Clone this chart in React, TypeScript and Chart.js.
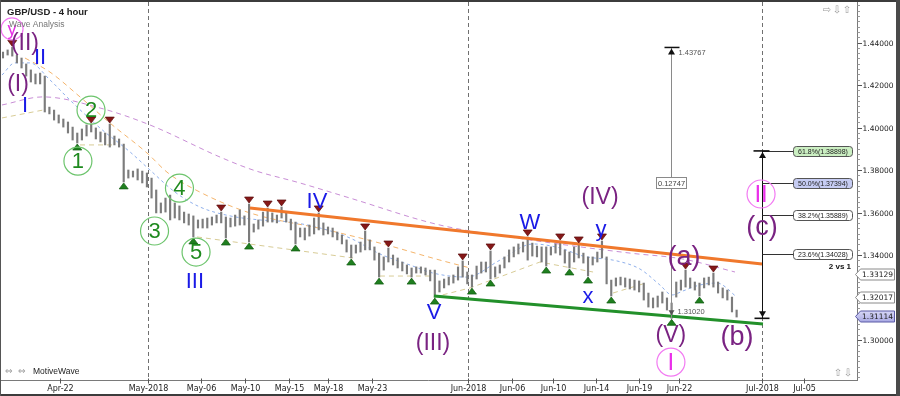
import React, { useEffect, useRef } from "react";
import { Chart, registerables } from "chart.js";

Chart.register(...registerables);

type Pt = [number, number];

// ---------- DATA ----------
// Bars: 8-hour high/low ranges, x in trading days from 1 May 2018
const barStartDay = -10.41;
const barStepDay = 1 / 3;

const barHigh: number[] = [
  1.4355, 1.4365, 1.4377, 1.4341, 1.4327, 1.4299, 1.4271, 1.4252, 1.4256, 1.4242,
  1.4096, 1.4082, 1.4059, 1.4040, 1.4026, 1.4002, 1.3974, 1.3993, 1.4012, 1.4016,
  1.3998, 1.3979, 1.3974, 1.4016, 1.3960, 1.3946, 1.3922, 1.3800, 1.3795, 1.3805,
  1.3795, 1.3786, 1.3762, 1.3706, 1.3645, 1.3668, 1.3682, 1.3645, 1.3631, 1.3602,
  1.3593, 1.3584, 1.3565, 1.3569, 1.3574, 1.3579, 1.3588, 1.3602, 1.3579, 1.3574,
  1.3588, 1.3612, 1.3584, 1.3640, 1.3546, 1.3565, 1.3602, 1.3621, 1.3598, 1.3588,
  1.3626, 1.3602, 1.3569, 1.3555, 1.3527, 1.3527, 1.3541, 1.3574, 1.3598, 1.3551,
  1.3532, 1.3527, 1.3508, 1.3494, 1.3471, 1.3447, 1.3447, 1.3461, 1.3513, 1.3471,
  1.3438, 1.3409, 1.3391, 1.3433, 1.3400, 1.3386, 1.3367, 1.3353, 1.3339, 1.3344,
  1.3344, 1.3339, 1.3329, 1.3329, 1.3278, 1.3287, 1.3296, 1.3306, 1.3344, 1.3372,
  1.3320, 1.3306, 1.3348, 1.3367, 1.3367, 1.3419, 1.3344, 1.3353, 1.3391, 1.3424,
  1.3438, 1.3452, 1.3461, 1.3485, 1.3456, 1.3442, 1.3438, 1.3438, 1.3438, 1.3452,
  1.3466, 1.3424, 1.3414, 1.3438, 1.3452, 1.3409, 1.3391, 1.3391, 1.3414, 1.3466,
  1.3391, 1.3282, 1.3292, 1.3296, 1.3292, 1.3287, 1.3282, 1.3278, 1.3268, 1.3221,
  1.3198, 1.3207, 1.3226, 1.3198, 1.3174, 1.3273, 1.3282, 1.3329, 1.3292, 1.3273,
  1.3268, 1.3292, 1.3296, 1.3315, 1.3273, 1.3245, 1.3235, 1.3202, 1.3141,
];

const barLow: number[] = [
  1.4327, 1.4341, 1.4336, 1.4304, 1.4280, 1.4242, 1.4214, 1.4205, 1.4205, 1.4073,
  1.4064, 1.4035, 1.4021, 1.4002, 1.3974, 1.3941, 1.3927, 1.3941, 1.3960, 1.3979,
  1.3946, 1.3932, 1.3918, 1.3908, 1.3918, 1.3908, 1.3744, 1.3762, 1.3767, 1.3753,
  1.3739, 1.3720, 1.3668, 1.3598, 1.3598, 1.3602, 1.3565, 1.3574, 1.3565, 1.3551,
  1.3541, 1.3485, 1.3527, 1.3527, 1.3527, 1.3541, 1.3551, 1.3551, 1.3480, 1.3532,
  1.3536, 1.3541, 1.3541, 1.3461, 1.3508, 1.3522, 1.3536, 1.3555, 1.3555, 1.3551,
  1.3574, 1.3555, 1.3518, 1.3452, 1.3485, 1.3471, 1.3489, 1.3499, 1.3518, 1.3494,
  1.3499, 1.3485, 1.3471, 1.3452, 1.3414, 1.3386, 1.3409, 1.3414, 1.3424, 1.3424,
  1.3376, 1.3296, 1.3329, 1.3367, 1.3353, 1.3339, 1.3325, 1.3311, 1.3296, 1.3315,
  1.3315, 1.3306, 1.3278, 1.3202, 1.3226, 1.3245, 1.3259, 1.3268, 1.3282, 1.3296,
  1.3264, 1.3249, 1.3287, 1.3315, 1.3320, 1.3287, 1.3296, 1.3315, 1.3339, 1.3367,
  1.3391, 1.3405, 1.3414, 1.3376, 1.3395, 1.3391, 1.3367, 1.3348, 1.3400, 1.3409,
  1.3400, 1.3362, 1.3339, 1.3367, 1.3386, 1.3362, 1.3301, 1.3353, 1.3367, 1.3386,
  1.3264, 1.3207, 1.3254, 1.3259, 1.3249, 1.3240, 1.3235, 1.3226, 1.3188, 1.3155,
  1.3151, 1.3155, 1.3174, 1.3141, 1.3102, 1.3202, 1.3235, 1.3249, 1.3245, 1.3235,
  1.3207, 1.3245, 1.3259, 1.3249, 1.3221, 1.3198, 1.3188, 1.3132, 1.3108,
];

const xTickDays = [-6.3, 0, 3.8, 6.96, 10.12, 12.92, 16.08, 23, 26.13, 29.07, 32.16, 35.25, 38.12, 44.05, 47.1];
const xTickLabels = ["Apr-22", "May-2018", "May-06", "May-10", "May-15", "May-18", "May-23", "Jun-2018", "Jun-06", "Jun-10", "Jun-14", "Jun-19", "Jun-22", "Jul-2018", "Jul-05"];
const monthStartDays = [0, 23, 44.05];
const yTickValues = [1.30, 1.32, 1.34, 1.36, 1.38, 1.40, 1.42, 1.44];

const maFast: Pt[] = [
  [-10.48, 1.4247], [-9.55, 1.4304], [-8.47, 1.4304], [-7.04, 1.4224], [-5.6, 1.4129],
  [-3.45, 1.3998], [-1.29, 1.3885], [0.14, 1.38], [1.94, 1.3696], [3.73, 1.3626],
  [5.89, 1.3584], [8.04, 1.3565], [10.19, 1.3555], [12.35, 1.3527], [14.5, 1.348],
  [16.65, 1.3405], [18.81, 1.3353], [20.46, 1.3315], [22.9, 1.3296], [25.27, 1.3376],
  [27.64, 1.3452], [29.58, 1.3433], [31.23, 1.3395], [33.67, 1.3372], [35.32, 1.3334],
  [36.75, 1.3259], [37.62, 1.3212], [38.41, 1.3231], [39.63, 1.3259], [40.85, 1.3268],
  [42.28, 1.3202],
];
const maMid: Pt[] = [
  [-8.83, 1.4327], [-7.04, 1.4261], [-4.88, 1.4144], [-2.73, 1.4021], [-0.07, 1.388],
  [1.44, 1.3786], [3.73, 1.3696], [7.32, 1.3598], [12.85, 1.3518], [16.65, 1.3456],
  [20.96, 1.3376], [23.12, 1.3339],
];
const maSlow: Pt[] = [
  [-10.48, 1.4106], [-7.54, 1.4144], [-3.45, 1.4092], [0.14, 1.4012], [5.17, 1.3861],
  [7.54, 1.38], [10.91, 1.3739], [14.5, 1.3668], [20.96, 1.3541], [27.42, 1.3471],
  [34.6, 1.3409], [38.41, 1.3381], [42.14, 1.332],
];
const zigzagSegments: Pt[][] = [
  [[-10.48, 1.4045], [-7.54, 1.4082]],
  [[-4.88, 1.3918], [-2.58, 1.3918]],
  [[3.52, 1.3485], [14.72, 1.3386]],
  [[16.65, 1.3301], [20.46, 1.3301]],
  [[20.53, 1.3202], [23.12, 1.3245], [28.14, 1.3367], [31.95, 1.332]],
  [[33.38, 1.3221], [35.53, 1.3264]],
];

const upperTrend: Pt[] = [[7.32, 1.3621], [44.08, 1.3358]];
const lowerTrend: Pt[] = [[20.53, 1.3207], [44.15, 1.3075]];

const swingHighBars = [2, 19, 23, 47, 53, 57, 60, 68, 78, 83, 99, 105, 113, 120, 124, 129, 147, 153];
const swingLowBars = [16, 26, 41, 48, 53, 63, 75, 81, 88, 93, 101, 105, 117, 122, 126, 131, 144, 150];

const waveText = ["y", "(II)", "II", "(I)", "I", "1", "2", "3", "4", "5", "III", "IV", "V", "(III)", "W", "y", "x", "(IV)", "(a)", "(V)", "I", "(b)", "(c)", "II"];
const waveDay = [-9.76, -8.83, -7.75, -9.33, -8.83, -5.03, -4.09, 0.47, 2.26, 3.45, 3.37, 12.13, 20.53, 20.46, 27.42, 32.52, 31.59, 32.45, 38.48, 37.54, 37.54, 42.28, 44.08, 44.01];
const wavePrice = [1.4464, 1.4398, 1.4332, 1.4205, 1.4106, 1.3842, 1.4082, 1.3513, 1.3715, 1.3414, 1.3278, 1.3654, 1.3132, 1.2986, 1.3555, 1.3522, 1.3207, 1.3673, 1.3395, 1.3024, 1.2896, 1.3014, 1.3536, 1.3687];
const waveDegree = ["p", "I", "m", "I", "m", "M", "M", "M", "M", "M", "m", "m", "m", "I", "m", "m", "m", "I", "i", "I", "P", "i", "i", "P"];

const fibDay = 44.05;
const fibRatios = ["23.6%", "38.2%", "50.0%", "61.8%"];
const fibPrices = [1.34028, 1.35889, 1.37394, 1.38898];
const fibLow = 1.3102;

const measureDay = 37.55;
const measureHigh = 1.43767;
const measureLow = 1.3102;
const measureDiff = "0.12747";

const priceTags = [1.33129, 1.32017, 1.31114];
const ratioNoteText = "2 vs 1";
const ratioNotePrice = 1.33435;

// ---------- STYLE ----------
const X_MIN = -10.48, X_MAX = 50.97, Y_MIN = 1.28118, Y_MAX = 1.45906;
const SANS = '"Liberation Sans", Arial, sans-serif';
const DJ = '"DejaVu Sans", sans-serif';
const degreeStyle: Record<string, any> = {
  p: { color: "#e62ee6", ring: "#f27af2", size: 18, r: 11 },
  P: { color: "#ea2fea", ring: "#f27af2", size: 24, r: 14 },
  I: { color: "#7a2382", size: 23 },
  i: { color: "#7a2382", size: 27 },
  m: { color: "#1a1ae6", size: 22 },
  M: { color: "#1f8a1f", ring: "#6cc46c", size: 22, r: 14 },
};
const fibFill: Record<string, string> = { "61.8%": "#cbefc2", "50.0%": "#c6ccf3" };

function rr(ctx: CanvasRenderingContext2D, x: number, y: number, w: number, h: number, r: number) {
  ctx.beginPath();
  ctx.moveTo(x + r, y);
  ctx.lineTo(x + w - r, y);
  ctx.quadraticCurveTo(x + w, y, x + w, y + r);
  ctx.lineTo(x + w, y + h - r);
  ctx.quadraticCurveTo(x + w, y + h, x + w - r, y + h);
  ctx.lineTo(x + r, y + h);
  ctx.quadraticCurveTo(x, y + h, x, y + h - r);
  ctx.lineTo(x, y + r);
  ctx.quadraticCurveTo(x, y, x + r, y);
  ctx.closePath();
}

const decor = {
  id: "decor",
  beforeDraw(c: any) {
    const ctx = c.ctx;
    ctx.save();
    ctx.fillStyle = "#ffffff";
    ctx.fillRect(0, 0, c.width, c.height);
    ctx.restore();
  },
  beforeDatasetsDraw(c: any) {
    const { ctx, chartArea: a, scales } = c;
    ctx.save();
    ctx.strokeStyle = "#707070";
    ctx.lineWidth = 1;
    ctx.setLineDash([4, 3]);
    monthStartDays.forEach((d) => {
      const x = Math.round(scales.x.getPixelForValue(d)) + 0.5;
      ctx.beginPath();
      ctx.moveTo(x, a.top);
      ctx.lineTo(x, a.bottom);
      ctx.stroke();
    });
    ctx.restore();
  },
  afterDatasetsDraw(c: any) {
    const { ctx, scales } = c;
    const X = (d: number) => scales.x.getPixelForValue(d);
    const Y = (p: number) => scales.y.getPixelForValue(p);
    ctx.save();

    // swing markers
    swingHighBars.forEach((i) => {
      const x = X(barStartDay + i * barStepDay);
      const y = Y(barHigh[i]) - 1;
      ctx.beginPath();
      ctx.moveTo(x, y);
      ctx.lineTo(x - 4.5, y - 6);
      ctx.lineTo(x + 4.5, y - 6);
      ctx.closePath();
      ctx.fillStyle = "#861818";
      ctx.fill();
      ctx.strokeStyle = "#5a0c0c";
      ctx.lineWidth = 0.7;
      ctx.stroke();
    });
    swingLowBars.forEach((i) => {
      const x = X(barStartDay + i * barStepDay);
      const y = Y(barLow[i]) + 1;
      ctx.beginPath();
      ctx.moveTo(x, y);
      ctx.lineTo(x - 4.5, y + 6);
      ctx.lineTo(x + 4.5, y + 6);
      ctx.closePath();
      ctx.fillStyle = "#1f7f1f";
      ctx.fill();
      ctx.strokeStyle = "#0e5a0e";
      ctx.lineWidth = 0.7;
      ctx.stroke();
    });

    // measurement tool
    const mx = Math.round(X(measureDay)) + 0.5;
    const mh = Y(measureHigh), ml = Y(measureLow);
    ctx.strokeStyle = "#8a8a8a";
    ctx.lineWidth = 1;
    ctx.beginPath(); ctx.moveTo(mx, mh); ctx.lineTo(mx, ml); ctx.stroke();
    ctx.strokeStyle = "#111"; ctx.lineWidth = 1.5;
    ctx.beginPath(); ctx.moveTo(mx - 7, mh); ctx.lineTo(mx + 8, mh); ctx.stroke();
    ctx.fillStyle = "#111";
    ctx.beginPath(); ctx.moveTo(mx, mh + 1); ctx.lineTo(mx - 3.5, mh + 7); ctx.lineTo(mx + 3.5, mh + 7); ctx.closePath(); ctx.fill();
    ctx.fillStyle = "#555";
    ctx.beginPath(); ctx.moveTo(mx, ml - 3); ctx.lineTo(mx - 3, ml - 8); ctx.lineTo(mx + 3, ml - 8); ctx.closePath(); ctx.fill();
    ctx.font = `7.5px ${SANS}`;
    ctx.textAlign = "left"; ctx.textBaseline = "middle";
    ctx.fillStyle = "#555";
    ctx.fillText(measureHigh.toFixed(5), mx + 7, mh + 5);
    ctx.fillText(measureLow.toFixed(5), mx + 6, ml - 6);
    const mm = Y((measureHigh + measureLow) / 2);
    ctx.fillStyle = "#fff"; ctx.strokeStyle = "#8a8a8a"; ctx.lineWidth = 1;
    ctx.fillRect(mx - 15, Math.round(mm) - 5.5, 30, 11);
    ctx.strokeRect(mx - 15, Math.round(mm) - 5.5, 30, 11);
    ctx.fillStyle = "#444"; ctx.textAlign = "center";
    ctx.fillText(measureDiff, mx, Math.round(mm) + 0.5);

    // fibonacci tool
    const fx = Math.round(X(fibDay)) + 0.5;
    const ft = Y(fibPrices[3]), fb = Y(fibLow);
    ctx.strokeStyle = "#111"; ctx.lineWidth = 1;
    ctx.beginPath(); ctx.moveTo(fx, ft); ctx.lineTo(fx, fb); ctx.stroke();
    fibPrices.forEach((p, k) => {
      const y = Math.round(Y(p)) + 0.5;
      ctx.strokeStyle = "#333"; ctx.lineWidth = 1;
      ctx.beginPath(); ctx.moveTo(fx, y); ctx.lineTo(fx + 31, y); ctx.stroke();
      rr(ctx, fx + 31, y - 5, 59, 10, 3);
      ctx.fillStyle = fibFill[fibRatios[k]] || "#ffffff";
      ctx.fill();
      ctx.strokeStyle = "#555"; ctx.stroke();
      ctx.fillStyle = "#222"; ctx.font = `7px ${SANS}`;
      ctx.textAlign = "center"; ctx.textBaseline = "middle";
      ctx.fillText(`${fibRatios[k]}(${p.toFixed(5)})`, fx + 60.5, y + 0.5);
    });
    ctx.strokeStyle = "#111"; ctx.lineWidth = 1.6;
    ctx.beginPath(); ctx.moveTo(fx - 9, ft); ctx.lineTo(fx + 7, ft); ctx.stroke();
    ctx.beginPath(); ctx.moveTo(fx - 8, fb); ctx.lineTo(fx + 7, fb); ctx.stroke();
    ctx.fillStyle = "#111";
    ctx.beginPath(); ctx.moveTo(fx, ft + 1); ctx.lineTo(fx - 3.5, ft + 7); ctx.lineTo(fx + 3.5, ft + 7); ctx.closePath(); ctx.fill();
    ctx.beginPath(); ctx.moveTo(fx, fb - 1); ctx.lineTo(fx - 3.5, fb - 7); ctx.lineTo(fx + 3.5, fb - 7); ctx.closePath(); ctx.fill();

    // ratio note
    ctx.font = `bold 8px ${SANS}`;
    ctx.fillStyle = "#111"; ctx.textAlign = "right"; ctx.textBaseline = "middle";
    ctx.fillText(ratioNoteText, c.chartArea.right - 7, Y(ratioNotePrice));

    // wave labels
    waveText.forEach((t, k) => {
      const st = degreeStyle[waveDegree[k]];
      const x = X(waveDay[k]), y = Y(wavePrice[k]);
      if (st.ring) {
        ctx.beginPath();
        ctx.arc(x, y, st.r, 0, Math.PI * 2);
        ctx.strokeStyle = st.ring; ctx.lineWidth = 1.2; ctx.stroke();
      }
      ctx.fillStyle = st.color;
      ctx.font = `${st.size}px ${SANS}`;
      ctx.textAlign = "center"; ctx.textBaseline = "middle";
      ctx.fillText(t, x, y + 1);
    });

    ctx.restore();
  },
  afterDraw(c: any) {
    const { ctx, chartArea: a, scales } = c;
    const X = (d: number) => scales.x.getPixelForValue(d);
    const Y = (p: number) => scales.y.getPixelForValue(p);
    ctx.save();

    // titles
    ctx.textAlign = "left"; ctx.textBaseline = "alphabetic";
    ctx.font = `bold 9.5px ${SANS}`; ctx.fillStyle = "#222";
    ctx.fillText("GBP/USD - 4 hour", 7, 15);
    ctx.font = `8.5px ${SANS}`; ctx.fillStyle = "#777";
    ctx.fillText("Wave Analysis", 9, 27);
    ctx.font = `8.5px ${SANS}`; ctx.fillStyle = "#222";
    ctx.fillText("MotiveWave", 33, 374);
    ctx.font = `9px ${DJ}`; ctx.fillStyle = "#9a9a9a";
    ctx.fillText("\u21D4", 5, 374);
    ctx.fillText("\u21D4", 18, 374);
    ctx.textAlign = "center";
    ctx.font = `10px ${DJ}`;
    ["\u21E8", "\u21E9", "\u21E7"].forEach((g, k) => ctx.fillText(g, 827 + k * 10, 13));
    ["\u21E7", "\u21E9"].forEach((g, k) => ctx.fillText(g, 838 + k * 10, 376));

    // right axis
    const ax = Math.round(a.right) - 0.5;
    ctx.strokeStyle = "#7a7a7a"; ctx.lineWidth = 1;
    ctx.beginPath(); ctx.moveTo(ax, a.top); ctx.lineTo(ax, a.bottom + 1); ctx.stroke();
    ctx.strokeStyle = "#9a9a9a";
    for (let v = Math.ceil(Y_MIN / 0.0025) * 0.0025; v <= Y_MAX; v += 0.0025) {
      const y = Math.round(Y(v)) + 0.5;
      ctx.beginPath(); ctx.moveTo(ax, y); ctx.lineTo(ax + 2.5, y); ctx.stroke();
    }
    ctx.font = `7.5px ${DJ}`; ctx.fillStyle = "#222";
    ctx.textAlign = "left"; ctx.textBaseline = "middle";
    ctx.strokeStyle = "#555";
    yTickValues.forEach((v) => {
      const y = Math.round(Y(v)) + 0.5;
      ctx.beginPath(); ctx.moveTo(ax, y); ctx.lineTo(ax + 4.5, y); ctx.stroke();
      ctx.fillText(v.toFixed(5), ax + 5, y + 0.5);
    });

    // bottom axis
    const by = Math.round(a.bottom) + 0.5;
    ctx.strokeStyle = "#7a7a7a";
    ctx.beginPath(); ctx.moveTo(0, by); ctx.lineTo(ax, by); ctx.stroke();
    ctx.font = `8px ${DJ}`;
    ctx.textAlign = "center"; ctx.textBaseline = "middle";
    ctx.fillStyle = "#222"; ctx.strokeStyle = "#555";
    xTickDays.forEach((d, k) => {
      const x = Math.round(X(d)) + 0.5;
      ctx.beginPath(); ctx.moveTo(x, by - 2); ctx.lineTo(x, by + 3); ctx.stroke();
      ctx.fillText(xTickLabels[k], x, 389);
    });

    // price tags
    priceTags.forEach((p, k) => {
      const y = Math.round(Y(p)) + 0.5;
      const last = k === priceTags.length - 1;
      ctx.beginPath();
      ctx.moveTo(ax - 2, y);
      ctx.lineTo(ax + 3, y - 5.5);
      ctx.lineTo(894.5, y - 5.5);
      ctx.lineTo(894.5, y + 5.5);
      ctx.lineTo(ax + 3, y + 5.5);
      ctx.closePath();
      if (last) {
        const g = ctx.createLinearGradient(0, y - 6, 0, y + 6);
        g.addColorStop(0, "#dadaf8");
        g.addColorStop(1, "#a6a6e2");
        ctx.fillStyle = g;
      } else ctx.fillStyle = "#ffffff";
      ctx.fill();
      ctx.strokeStyle = last ? "#5a5aa6" : "#8a8a8a";
      ctx.lineWidth = 1; ctx.stroke();
      ctx.fillStyle = "#222"; ctx.font = `7.5px ${DJ}`;
      ctx.textAlign = "left"; ctx.textBaseline = "middle";
      ctx.fillText(p.toFixed(5), ax + 4.5, y + 0.5);
    });

    // frame
    ctx.fillStyle = "#3c3c3c";
    ctx.fillRect(0, 0, 900, 2);
    ctx.fillRect(0, 394, 900, 2);
    ctx.fillStyle = "#4a4a4a";
    ctx.fillRect(896, 0, 4, 396);
    ctx.fillStyle = "#555";
    ctx.fillRect(0, 0, 1, 396);
    ctx.restore();
  },
};

export default function App() {
  const ref = useRef<HTMLCanvasElement | null>(null);
  useEffect(() => {
    const canvas = ref.current;
    if (!canvas) return;
    const toXY = (pts: Pt[]) => pts.map(([x, y]) => ({ x, y }));
    const bars = barHigh.map((h, i) => ({ x: barStartDay + i * barStepDay, y: [barLow[i], h] }));
    const lineDs = (pts: Pt[], color: string, width: number, dash: number[], order: number, smooth: boolean) => ({
      type: "line" as const,
      data: toXY(pts),
      borderColor: color,
      borderWidth: width,
      borderDash: dash,
      pointRadius: 0,
      fill: false,
      cubicInterpolationMode: smooth ? ("monotone" as const) : ("default" as const),
      order,
    });
    const datasets: any[] = [
      lineDs(upperTrend, "#f0782c", 3, [], 0, false),
      lineDs(lowerTrend, "#22902a", 3, [], 0, false),
      {
        type: "bar",
        data: bars,
        backgroundColor: "#7c7c7c",
        borderWidth: 0,
        barThickness: 1.5,
        order: 1,
      },
      lineDs(maFast, "#8fb0ec", 1, [3, 3], 2, true),
      lineDs(maMid, "#f5b56c", 1, [5, 4], 2, true),
      lineDs(maSlow, "#c98ed6", 1, [5, 4], 2, true),
      ...zigzagSegments.map((s) => lineDs(s, "#d8cc96", 1, [5, 4], 3, false)),
    ];
    const chart = new Chart(canvas, {
      type: "bar",
      data: { datasets },
      options: {
        animation: false,
        responsive: false,
        devicePixelRatio: 1,
        layout: { padding: { left: 2, top: 2, right: 42, bottom: 16 } },
        scales: {
          x: { type: "linear", min: X_MIN, max: X_MAX, display: false, offset: false },
          y: { type: "linear", min: Y_MIN, max: Y_MAX, display: false },
        },
        plugins: { legend: { display: false }, tooltip: { enabled: false } },
      } as any,
      plugins: [decor],
    });
    return () => chart.destroy();
  }, []);
  return (
    <div style={{ position: "fixed", left: 0, top: 0, width: 900, height: 396, background: "#fff" }}>
      <canvas ref={ref} width={900} height={396} style={{ display: "block", width: 900, height: 396 }} />
    </div>
  );
}
